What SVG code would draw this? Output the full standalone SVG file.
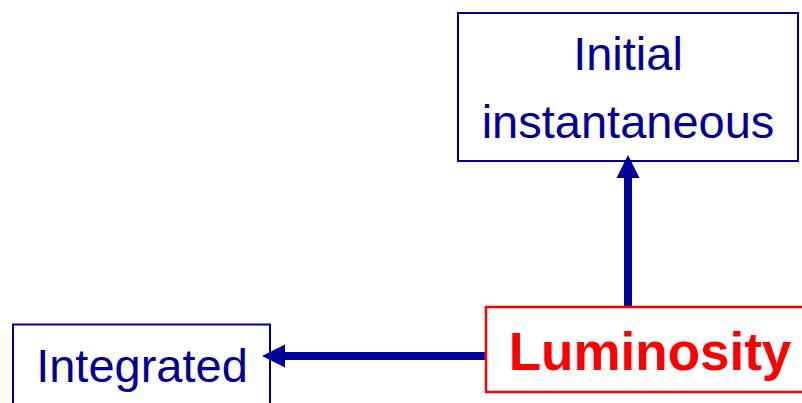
<svg xmlns="http://www.w3.org/2000/svg" width="802" height="403" viewBox="0 0 802 403">
<style>
.blue{fill:none;stroke:#000099;stroke-width:2}
.red{fill:none;stroke:#ff0000;stroke-width:2.5}
.t{font-family:"Liberation Sans",Arial,sans-serif;font-size:47px;fill:#000099;text-anchor:middle}
.tb{font-family:"Liberation Sans",Arial,sans-serif;font-size:53px;font-weight:bold;fill:#ff0000;text-anchor:middle}
.conn{stroke:#000099;stroke-width:8;fill:none}
.head{fill:#000099}
</style>
<rect width="802" height="403" fill="#ffffff"/>
<g id="connectors">
<line class="conn" x1="628" y1="307" x2="628" y2="176"/>
<polygon class="head" points="628,155 616.5,178 639.5,178"/>
<line class="conn" x1="486" y1="356" x2="283" y2="356"/>
<polygon class="head" points="262,356 285,344.5 285,367.5"/>
</g>
<g id="initial">
<rect class="blue" x="458" y="13" width="340" height="148"/>
<text class="t" x="628" y="70">Initial</text>
<text class="t" x="628" y="138">instantaneous</text>
</g>
<g id="integrated">
<rect class="blue" x="13" y="324.5" width="257" height="90"/>
<text class="t" x="142" y="382">Integrated</text>
</g>
<g id="luminosity">
<rect class="red" x="486" y="307" width="320" height="85"/>
<text class="tb" x="650" y="370">Luminosity</text>
</g>
</svg>
